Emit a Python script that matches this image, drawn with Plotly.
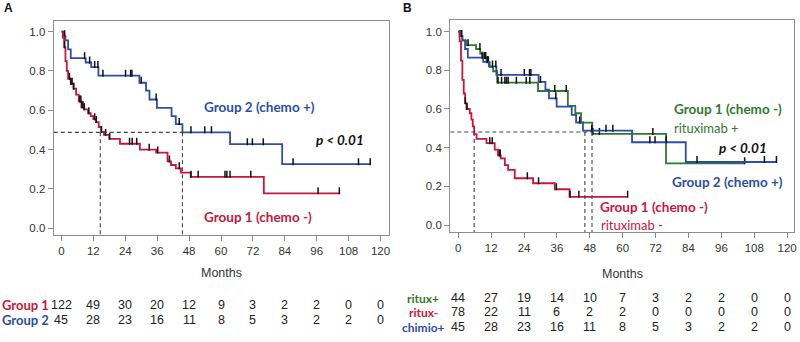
import plotly.graph_objects as go

# ---------------- data ----------------
months_ticks = [0, 12, 24, 36, 48, 60, 72, 84, 96, 108, 120]

# Panel A, Group 1 (chemo -): step times (months) and survival after each step
a_g1_t = [0, 0.5, 1.0, 1.5, 2.0, 2.5, 3.5, 4.5, 5.5, 6.5, 7.5, 8.5, 10.0, 11.0, 12.0, 13.0,
          14.0, 15.0, 16.0, 18.0, 22.0, 29.5, 35.6, 39.9, 41.2, 43.0, 44.9, 48.6, 76.1]
a_g1_s = [1.0, 0.97, 0.92, 0.85, 0.80, 0.76, 0.735, 0.71, 0.68, 0.645, 0.615, 0.605, 0.585, 0.57,
          0.555, 0.54, 0.515, 0.49, 0.475, 0.455, 0.43, 0.40, 0.385, 0.34, 0.322, 0.305, 0.283,
          0.262, 0.178]
a_g1_end = 104.5
a_g1_cens = [1.2, 3.0, 3.5, 4.0, 4.6, 6.9, 7.3, 7.7, 8.1, 8.6, 10.3, 12.5, 13.1, 15.0, 16.6,
             18.1, 25.6, 26.6, 28.3, 33.0, 36.2, 40.6, 44.3, 48.7, 51.4, 61.5, 62.2, 63.4,
             71.2, 96.5, 104.5]

# Group 2 (chemo +), shared by both panels
g2_t = [0, 0.8, 1.5, 2.5, 3.5, 9.1, 11.2, 13.9, 29.3, 31.8, 33.1, 35.9, 41.4, 43.0, 45.5,
        63.4, 83.0]
g2_s = [1.0, 0.977, 0.955, 0.91, 0.865, 0.843, 0.82, 0.776, 0.74, 0.70, 0.655, 0.612, 0.57,
        0.53, 0.488, 0.428, 0.326]
g2_end = 116.3
g2_cens = [1.2, 8.7, 10.6, 12.5, 13.7, 15.6, 24.1, 26.0, 26.5, 30.0, 35.6, 44.3, 48.7, 53.9,
           56.4, 69.9, 71.8, 75.9, 87.1, 111.7, 116.1]

# Panel B, Group 1 (chemo -) rituximab +
b_rp_t = [0, 0.5, 1.5, 3.0, 6.5, 8.0, 9.0, 10.3, 11.5, 12.7, 14.2, 29.1, 40.0, 42.7, 44.8,
          48.9, 75.8]
b_rp_s = [1.0, 0.977, 0.955, 0.93, 0.91, 0.886, 0.864, 0.841, 0.818, 0.795, 0.736, 0.693,
          0.616, 0.578, 0.529, 0.471, 0.319]
b_rp_end = 104.5
b_rp_cens = [0.6, 1.2, 3.6, 7.9, 9.5, 10.0, 11.0, 14.5, 15.8, 17.0, 17.6, 18.2, 21.2, 24.8,
             26.1, 35.2, 39.4, 49.1, 51.5, 71.0, 104.5]

# Panel B, Group 1 (chemo -) rituximab -
b_rm_t = [0, 0.5, 1.0, 1.5, 2.0, 2.5, 3.0, 4.2, 4.8, 5.3, 5.8, 6.7, 10.3, 13.3, 14.5, 15.5,
          17.0, 18.2, 20.6, 27.3, 35.2, 40.6]
b_rm_s = [1.0, 0.95, 0.85, 0.75, 0.68, 0.63, 0.60, 0.578, 0.545, 0.51, 0.47, 0.445, 0.423,
          0.39, 0.36, 0.345, 0.31, 0.285, 0.242, 0.216, 0.185, 0.146]
b_rm_end = 61.8
b_rm_cens = [2.6, 3.2, 11.5, 12.4, 15.0, 15.3, 25.2, 29.3, 35.8, 40.8, 44.0, 61.8]

# Median reference lines
a_median_level = 0.488
a_medians = [14.6, 45.5]
b_median_level = 0.481
b_medians = [5.8, 46.2, 48.8]

# Numbers at risk
a_risk_labels = ["Group 1", "Group 2"]
a_risk = [[122, 49, 30, 20, 12, 9, 3, 2, 2, 0, 0],
          [45, 28, 23, 16, 11, 8, 5, 3, 2, 2, 0]]
b_risk_labels = ["ritux+", "ritux-", "chimio+"]
b_risk = [[44, 27, 19, 14, 10, 7, 3, 2, 2, 0, 0],
          [78, 22, 11, 6, 2, 2, 0, 0, 0, 0, 0],
          [45, 28, 23, 16, 11, 8, 5, 3, 2, 2, 0]]

# ---------------- styles ----------------
RED = "#c8163c"
BLUE = "#2b4ea6"
GREEN = "#2f7a2c"
AXIS = "#8c8c8c"
TXT = "#333333"
W, H = 800, 342


def surv_at(t_list, s_list, t):
    val = s_list[0]
    for ti, si in zip(t_list, s_list):
        if ti <= t:
            val = si
    return val


fig = go.Figure()


def add_curve(t, s, end, cens, color, xa, ya, px_per_unit):
    fig.add_trace(go.Scatter(
        x=list(t) + [end], y=list(s) + [s[-1]], mode="lines", line_shape="hv",
        line=dict(color=color, width=1.8), xaxis=xa, yaxis=ya, hoverinfo="skip"))
    lift = 2.5 / px_per_unit
    fig.add_trace(go.Scatter(
        x=cens, y=[surv_at(t, s, c) + lift for c in cens], mode="markers",
        marker=dict(symbol="line-ns", size=5, line=dict(color="#111111", width=1.5)),
        xaxis=xa, yaxis=ya, hoverinfo="skip"))


# Panel A
add_curve(g2_t, g2_s, g2_end, g2_cens, BLUE, "x", "y", 196.6)
add_curve(a_g1_t, a_g1_s, a_g1_end, a_g1_cens, RED, "x", "y", 196.6)
# Panel B
add_curve(b_rp_t, b_rp_s, b_rp_end, b_rp_cens, GREEN, "x2", "y2", 193.3)
add_curve(g2_t, g2_s, g2_end, g2_cens, BLUE, "x2", "y2", 193.3)
add_curve(b_rm_t, b_rm_s, b_rm_end, b_rm_cens, RED, "x2", "y2", 193.3)

XR_A = [-2.88, 123.0]
YR_A = [-0.034, 1.054]
XR_B = [-2.9, 122.5]
YR_B = [-0.036, 1.06]

shapes = []
dash = dict(color="#444444", width=1.1, dash="4px,3px")
for xr, yr, lvl, meds, xa, ya in [(XR_A, YR_A, a_median_level, a_medians, "x", "y"),
                                  (XR_B, YR_B, b_median_level, b_medians, "x2", "y2")]:
    shapes.append(dict(type="line", xref=xa, yref=ya, x0=xr[0], x1=max(meds),
                       y0=lvl, y1=lvl, line=dash))
    for m in meds:
        shapes.append(dict(type="line", xref=xa, yref=ya, x0=m, x1=m,
                           y0=lvl, y1=yr[0], line=dash))

axis_common = dict(showline=True, linecolor=AXIS, linewidth=1.3, mirror=True,
                   ticks="outside", ticklen=5, tickcolor=AXIS, tickwidth=1,
                   showgrid=False, zeroline=False,
                   tickfont=dict(family="Liberation Sans, Arial", size=11.5, color=TXT))

fig.update_layout(
    width=W, height=H, margin=dict(l=0, r=0, t=0, b=0),
    paper_bgcolor="white", plot_bgcolor="white", showlegend=False,
    xaxis=dict(domain=[54 / W, 390 / W], range=XR_A, tickvals=months_ticks,
               anchor="y", **axis_common),
    yaxis=dict(domain=[1 - 235 / H, 1 - 21 / H], range=YR_A,
               tickvals=[0, 0.2, 0.4, 0.6, 0.8, 1.0], tickformat=".1f",
               anchor="x", **axis_common),
    xaxis2=dict(domain=[452 / W, 797 / W], range=XR_B, tickvals=months_ticks,
                anchor="y2", **axis_common),
    yaxis2=dict(domain=[1 - 232 / H, 1 - 20 / H], range=YR_B,
                tickvals=[0, 0.2, 0.4, 0.6, 0.8, 1.0], tickformat=".1f",
                anchor="x2", **axis_common),
    shapes=shapes,
)

LBL = "Lato, Open Sans, sans-serif"
NUM = "Liberation Sans, Arial"
ann = []


def text(x, y, s, color, size, family=LBL, bold=False, italic=False, xanchor="left",
         xref="paper"):
    t = s
    if bold:
        t = "<b>" + t + "</b>"
    if italic:
        t = "<i>" + t + "</i>"
    ann.append(dict(x=x if xref != "paper" else x / W, y=1 - y / H, xref=xref, yref="paper",
                    text=t, showarrow=False, xanchor=xanchor, yanchor="middle",
                    font=dict(family=family, size=size, color=color)))


# panel letters
text(2, 8, "A", "#111111", 12, family="Liberation Sans, Arial", bold=True)
text(403, 8, "B", "#111111", 12, family="Liberation Sans, Arial", bold=True)

# curve labels, panel A
text(203, 107, "Group 2 (chemo +)", BLUE, 13.5, bold=True)
text(315, 140, "p < 0.01", "#111111", 13.5, bold=True, italic=True)
text(203, 217, "Group 1 (chemo -)", RED, 13.5, bold=True)
text(222, 273, "Months", TXT, 12.5, family=NUM, xanchor="center")

# curve labels, panel B
text(675, 109, "Group 1 (chemo -)", GREEN, 13.5, bold=True)
text(675, 128, "rituximab +", GREEN, 13)
text(720, 148, "p < 0.01", "#111111", 13.5, bold=True, italic=True)
text(673, 182, "Group 2 (chemo +)", BLUE, 13.5, bold=True)
text(600, 207, "Group 1 (chemo -)", RED, 13.5, bold=True)
text(601, 225, "rituximab -", RED, 13)
text(625, 274, "Months", TXT, 12.5, family=NUM, xanchor="center")

# numbers at risk, panel A
a_rows_y = [305, 320]
a_cols = [RED, BLUE]
for lab, row, y, c in zip(a_risk_labels, a_risk, a_rows_y, a_cols):
    text(0, y, lab, c, 13, bold=True)
    for m, n in zip(months_ticks, row):
        text(m, y, str(n), "#222222", 12.5, family=NUM, xanchor="center", xref="x")

# numbers at risk, panel B
b_rows_y = [298, 312, 327]
b_cols = [GREEN, RED, BLUE]
for lab, row, y, c in zip(b_risk_labels, b_risk, b_rows_y, b_cols):
    text(425, y, lab, c, 12, bold=True, xanchor="center")
    for m, n in zip(months_ticks, row):
        text(m, y, str(n), "#222222", 12.5, family=NUM, xanchor="center", xref="x2")

fig.update_layout(annotations=ann)
fig.write_html("out.html")
